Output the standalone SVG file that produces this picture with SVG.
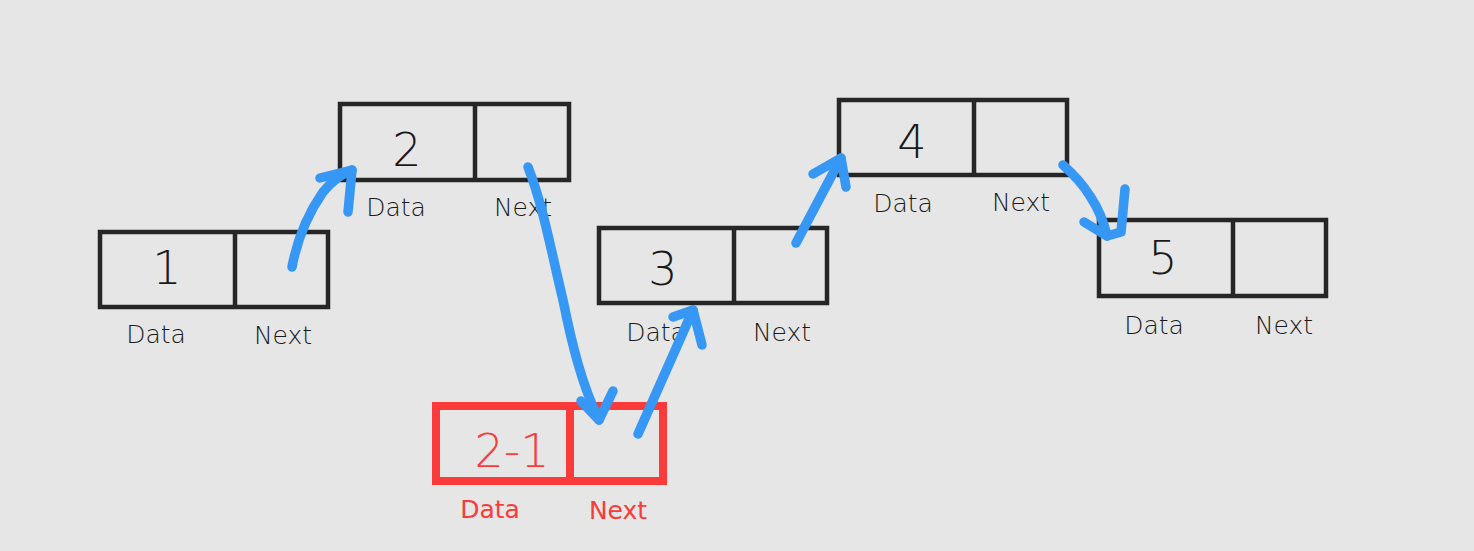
<svg xmlns="http://www.w3.org/2000/svg" width="1474" height="551" viewBox="0 0 1474 551">
<style>
.box{fill:none;stroke:#262626;stroke-width:4.5}
.rbox{fill:none;stroke:#fb3a3a;stroke-width:8}
.num{font-family:"DejaVu Sans","Liberation Sans",sans-serif;font-weight:200;font-size:46px;fill:#1a1a1a;text-anchor:middle}
.lbl{font-family:"DejaVu Sans","Liberation Sans",sans-serif;font-weight:200;font-size:25px;fill:#1a1a1a;text-anchor:middle}
.red{fill:#fb3a3a}
.rl{font-weight:400}
.arr{fill:none;stroke:#3797f5;stroke-width:9.5;stroke-linecap:round;stroke-linejoin:round}
</style>
<rect width="1474" height="551" fill="#e6e6e6"/>
<g id="node1">
<rect class="box" x="100" y="232" width="228" height="75"/>
<line class="box" x1="235" y1="232" x2="235" y2="307"/>
<text class="num" x="167" y="284">1</text>
<text class="lbl" x="156" y="343">Data</text>
<text class="lbl" x="283" y="344">Next</text>
</g>
<g id="node2">
<rect class="box" x="340" y="104" width="229" height="76"/>
<line class="box" x1="475" y1="104" x2="475" y2="180"/>
<text class="num" x="407" y="166">2</text>
<text class="lbl" x="396" y="216">Data</text>
<text class="lbl" x="523" y="216">Next</text>
</g>
<g id="node3">
<rect class="box" x="599" y="228" width="228" height="75"/>
<line class="box" x1="734" y1="228" x2="734" y2="303"/>
<text class="num" x="663" y="285">3</text>
<text class="lbl" x="656" y="341">Data</text>
<text class="lbl" x="782" y="341">Next</text>
</g>
<g id="node4">
<rect class="box" x="839" y="100" width="228" height="75"/>
<line class="box" x1="974" y1="100" x2="974" y2="175"/>
<text class="num" x="912" y="158">4</text>
<text class="lbl" x="903" y="212">Data</text>
<text class="lbl" x="1021" y="211">Next</text>
</g>
<g id="node5">
<rect class="box" x="1099" y="220" width="227" height="76"/>
<line class="box" x1="1233" y1="220" x2="1233" y2="296"/>
<text class="num" x="1163" y="274">5</text>
<text class="lbl" x="1154" y="334">Data</text>
<text class="lbl" x="1284" y="334">Next</text>
</g>
<g id="node2-1">
<rect class="rbox" x="436" y="406" width="227" height="75"/>
<line class="rbox" x1="570" y1="406" x2="570" y2="481"/>
<text class="num red" x="512" y="467">2-1</text>
<text class="lbl red rl" x="490" y="518">Data</text>
<text class="lbl red rl" x="618" y="519">Next</text>
</g>
<g id="connectors">
<path class="arr" d="M292,267 Q300,225 323,192 Q336,176 352,170"/>
<path class="arr" d="M320,178 L352,170 L348,212"/>
<path class="arr" d="M528,167 C543,205 552,255 563,300 C572,345 582,385 599,420"/>
<path class="arr" d="M581,401 L599,420 L613,391"/>
<path class="arr" d="M638,434 L693,310"/>
<path class="arr" d="M673,317 L693,310 L702,345"/>
<path class="arr" d="M796,243 L841,158"/>
<path class="arr" d="M813,174 L841,158 L846,187"/>
<path class="arr" d="M1063,165 Q1080,180 1090,196 Q1102,214 1107,236"/>
<path class="arr" d="M1084,222 L1107,236 L1121,232 L1125,189"/>
</g>
</svg>
